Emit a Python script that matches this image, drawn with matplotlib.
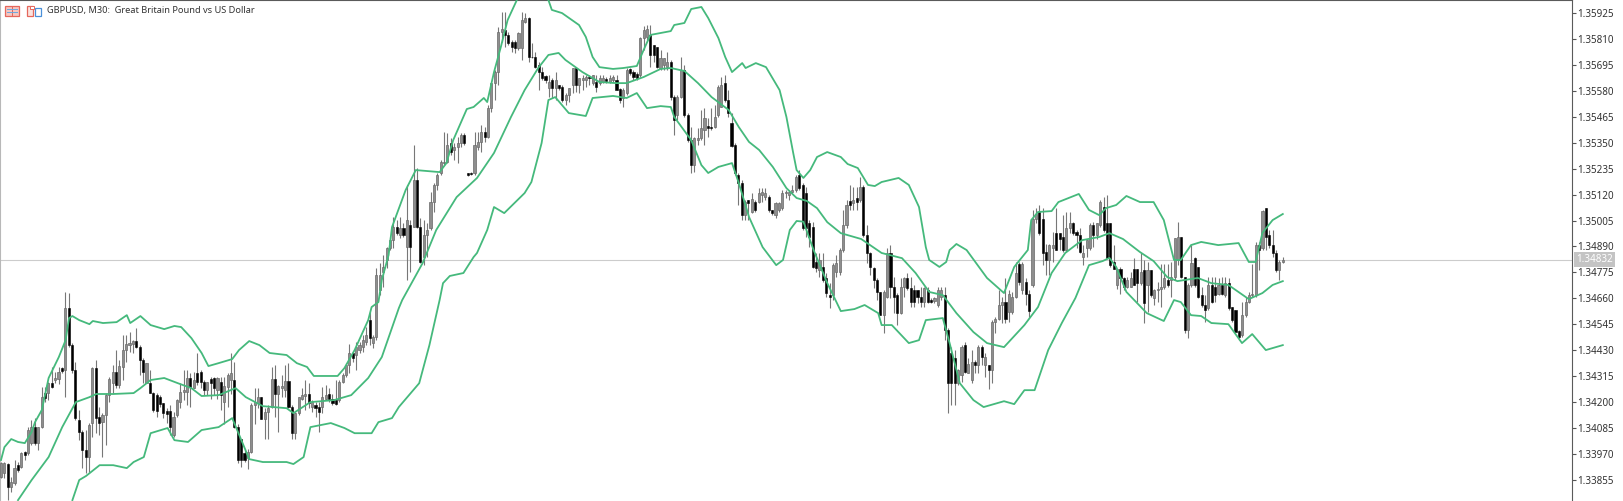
import numpy as np
import matplotlib
matplotlib.use('Agg')
import matplotlib.pyplot as plt
from matplotlib.patches import Rectangle

W, H = 1623, 501

# candles, prices in points above 1.33000
highs = [
    934,934,927,868,942,934,979,983,1090,1119,
    1127,1090,1267,1267,1290,1356,1334,1356,1356,1689,
    1682,1460,1378,1164,1075,1075,1105,1356,1386,1179,
    1149,1238,1312,1364,1430,1386,1497,1497,1512,1475,
    1526,1452,1393,1371,1341,1245,1238,1230,1193,1171,
    1185,1156,1215,1282,1341,1341,1326,1334,1415,1341,
    1297,1289,1311,1311,1311,1311,1311,1326,1415,1378,
    1104,1037,993,993,1193,1260,1260,1223,1171,1186,
    1356,1363,1274,1319,1363,1371,1186,1156,1223,1260,
    1297,1282,1208,1200,1200,1267,1274,1260,1237,1297,
    1297,1326,1371,1459,1422,1467,1467,1496,1533,1599,
    1497,1794,1815,1852,1889,1933,2022,2007,2022,1992,
    2163,2007,2340,2237,2015,2007,1992,2133,2170,2214,
    2274,2399,2392,2370,2348,2377,2392,2392,2217,2222,
    2399,2399,2429,2422,2518,2614,2673,2866,2932,2932,
    2843,2806,2806,2843,2932,2925,2910,2792,2755,2710,
    2688,2651,2651,2636,2666,2606,2606,2569,2592,2680,
    2680,2636,2651,2651,2651,2651,2651,2651,2651,2643,
    2651,2651,2651,2592,2592,2680,2683,2673,2666,2821,
    2868,2873,2873,2784,2777,2762,2725,2754,2717,2562,
    2562,2732,2695,2481,2421,2377,2414,2495,2503,2458,
    2503,2518,2606,2643,2651,2584,2481,2347,2214,2185,
    2096,2096,2126,2096,2148,2148,2148,2119,2052,2089,
    2089,2141,2141,2141,2163,2207,2230,2170,2156,2008,
    1999,1860,1860,1860,1771,1726,1815,1852,1882,2052,
    2096,2163,2156,2156,2200,2163,1985,1867,1800,1749,
    1689,1697,1882,1897,1756,1682,1749,1756,1771,1756,
    1719,1697,1712,1712,1712,1660,1667,1712,1712,1712,
    1527,1444,1430,1348,1452,1467,1393,1430,1385,1452,
    1452,1415,1363,1563,1578,1696,1666,1748,1696,1689,
    1822,1822,1822,1748,1696,2051,2059,2073,2059,1903,
    1903,1955,2059,1948,2029,2044,2044,1999,1962,1970,
    1896,1918,1992,1999,1992,2096,2110,2118,1992,1896,
    1792,1799,1755,1755,1778,1837,1792,1859,1829,1822,
    1785,1703,1733,1814,1814,1814,1822,1926,2000,1933,
    1755,1726,1896,1844,1800,1711,1674,1755,1755,1755,
    1748,1755,1755,1748,1622,1607,1519,1644,1667,1689,
    1814,1911,1911,2051,2059,1963,1963,1874,1829,1844,
]
body_tops = [
    927,930,923,846,905,920,971,979,1075,1090,
    1090,1090,1223,1238,1282,1282,1304,1334,1349,1615,
    1615,1452,1341,1119,1068,986,1097,1349,1349,1134,
    1142,1230,1300,1334,1334,1359,1430,1455,1460,1472,
    1472,1445,1386,1371,1282,1241,1230,1223,1193,1161,
    1161,1134,1208,1245,1252,1304,1304,1297,1326,1334,
    1289,1289,1300,1304,1304,1289,1270,1319,1326,1297,
    1089,1037,971,978,1186,1200,1223,1223,1156,1171,
    1300,1300,1270,1270,1292,1292,1178,1149,1220,1230,
    1237,1237,1200,1186,1178,1223,1230,1237,1211,1208,
    1289,1319,1363,1415,1415,1445,1452,1474,1496,1563,
    1488,1763,1763,1800,1881,1918,1978,1978,1970,1970,
    2007,1985,2185,2185,1978,1941,1963,2088,2163,2207,
    2266,2266,2340,2348,2333,2348,2385,2385,2214,2217,
    2340,2355,2399,2399,2503,2614,2666,2843,2854,2851,
    2829,2799,2799,2836,2895,2903,2903,2732,2732,2695,
    2666,2647,2621,2629,2629,2606,2599,2562,2592,2680,
    2680,2636,2636,2643,2643,2651,2621,2636,2636,2632,
    2636,2643,2629,2587,2584,2673,2676,2666,2655,2814,
    2851,2854,2828,2784,2777,2725,2725,2710,2710,2555,
    2555,2673,2673,2473,2362,2370,2370,2414,2458,2424,
    2421,2466,2599,2606,2614,2540,2436,2340,2207,2170,
    2088,2096,2099,2089,2126,2133,2126,2111,2052,2082,
    2082,2126,2133,2133,2141,2200,2207,2163,2126,1993,
    1978,1823,1830,1800,1749,1675,1808,1815,1874,1985,
    2074,2093,2096,2104,2156,2156,1941,1860,1793,1741,
    1689,1689,1860,1860,1712,1675,1712,1749,1749,1704,
    1697,1697,1667,1704,1697,1652,1660,1697,1697,1675,
    1519,1415,1393,1341,1444,1452,1370,1378,1378,1444,
    1444,1400,1363,1555,1570,1629,1644,1644,1681,1666,
    1770,1814,1814,1733,1681,2014,2036,2044,2014,1866,
    1896,1896,1948,1948,1933,1970,1992,1995,1955,1940,
    1859,1918,1985,1985,1992,2088,2066,1992,1992,1822,
    1792,1792,1748,1741,1748,1792,1792,1778,1785,1785,
    1785,1696,1703,1711,1748,1741,1755,1926,1933,1933,
    1755,1718,1815,1837,1800,1674,1630,1718,1718,1711,
    1718,1718,1726,1726,1619,1607,1514,1585,1644,1674,
    1681,1896,1896,2048,2059,1940,1896,1859,1822,1832,
]
body_bottoms = [
    868,883,823,823,838,897,912,964,971,1016,
    1016,1016,1090,1216,1238,1264,1297,1300,1338,1341,
    1452,1341,1127,1068,986,957,957,1105,1127,1105,
    1112,1142,1230,1282,1275,1275,1356,1430,1452,1457,
    1445,1386,1334,1282,1241,1164,1161,1190,1149,1146,
    1090,1052,1141,1200,1245,1245,1267,1260,1289,1289,
    1252,1252,1282,1260,1252,1230,1200,1267,1297,1089,
    941,941,941,949,978,1186,1193,1126,1126,1156,
    1178,1237,1237,1260,1252,1178,1060,1060,1149,1215,
    1226,1193,1178,1175,1156,1178,1215,1215,1193,1190,
    1208,1289,1319,1363,1393,1407,1430,1445,1467,1483,
    1461,1488,1696,1778,1830,1881,1918,1948,1941,1941,
    1889,1889,1978,1978,1822,1844,1941,1970,2088,2163,
    2214,2259,2266,2311,2318,2333,2348,2348,2207,2211,
    2214,2333,2355,2377,2377,2503,2614,2666,2843,2829,
    2792,2777,2769,2769,2769,2888,2732,2729,2688,2666,
    2636,2629,2592,2592,2592,2592,2540,2540,2562,2606,
    2606,2606,2629,2629,2636,2614,2599,2614,2621,2624,
    2621,2629,2584,2540,2547,2569,2661,2643,2636,2651,
    2814,2821,2740,2740,2688,2680,2695,2688,2555,2451,
    2473,2555,2473,2362,2251,2251,2362,2370,2407,2414,
    2414,2421,2473,2510,2540,2481,2336,2214,2170,2029,
    2029,2081,2045,2052,2089,2119,2111,2052,2037,2030,
    2052,2059,2126,2119,2133,2141,2148,1971,1971,1934,
    1800,1793,1786,1741,1682,1667,1675,1778,1778,1874,
    1985,2074,2082,2089,2096,1941,1860,1800,1741,1689,
    1586,1586,1667,1712,1667,1593,1593,1712,1704,1645,
    1645,1667,1645,1645,1645,1645,1649,1630,1667,1519,
    1282,1282,1282,1282,1319,1333,1326,1296,1363,1363,
    1400,1363,1341,1341,1555,1570,1629,1570,1600,1600,
    1666,1733,1696,1681,1604,1718,2014,1948,1859,1829,
    1829,1881,1874,1925,1874,1874,1970,1948,1940,1866,
    1844,1881,1881,1940,1940,1985,1962,1837,1807,1792,
    1718,1748,1711,1711,1711,1718,1726,1726,1637,1718,
    1674,1659,1696,1699,1711,1718,1741,1755,1829,1755,
    1519,1519,1718,1718,1667,1630,1607,1615,1644,1674,
    1681,1681,1674,1615,1563,1511,1489,1496,1585,1644,
    1674,1674,1874,1881,1933,1896,1859,1785,1785,1822,
]
lows = [
    860,860,764,801,831,890,905,942,964,1008,
    1008,986,1082,1201,1208,1260,1282,1279,1327,1223,
    1445,1327,1119,1031,905,883,890,1045,1060,1053,
    957,1008,1201,1238,1260,1260,1297,1378,1423,1415,
    1438,1319,1282,1282,1238,1156,1134,1179,1127,1105,
    1053,1045,1134,1171,1208,1186,1178,1260,1274,1260,
    1230,1230,1215,1230,1215,1163,1104,1178,1237,1082,
    927,912,934,904,971,1104,1171,1126,1037,1037,
    1171,1134,1067,1222,1222,1171,1037,1037,1141,1208,
    1163,1171,1156,1134,1067,1149,1208,1200,1186,1186,
    1200,1282,1311,1326,1378,1341,1415,1422,1452,1452,
    1439,1474,1674,1711,1793,1874,1881,1941,1926,1933,
    1741,1778,1978,1970,1815,1807,1844,1963,2044,2140,
    2207,2251,2259,2296,2274,2259,2333,2340,2203,2207,
    2207,2318,2311,2355,2370,2488,2540,2607,2799,2777,
    2784,2755,2747,2762,2718,2880,2710,2725,2681,2584,
    2629,2614,2555,2547,2540,2584,2532,2518,2532,2569,
    2577,2569,2584,2599,2606,2606,2577,2606,2614,2614,
    2614,2621,2584,2525,2510,2562,2651,2629,2629,2643,
    2762,2806,2688,2710,2680,2673,2673,2673,2540,2384,
    2451,2547,2466,2355,2214,2222,2340,2362,2340,2377,
    2407,2414,2466,2510,2532,2466,2333,2207,2074,2007,
    2007,2007,2037,2045,2082,2089,2096,2045,2030,2015,
    2045,2052,2104,2096,2126,2133,2141,1963,1934,1889,
    1793,1778,1756,1734,1667,1615,1652,1756,1763,1867,
    1971,2052,2052,2052,2089,1934,1815,1763,1704,1652,
    1586,1504,1660,1660,1593,1541,1590,1667,1697,1623,
    1623,1638,1623,1623,1641,1638,1638,1623,1652,1475,
    1149,1185,1185,1274,1289,1326,1326,1282,1326,1326,
    1363,1311,1259,1282,1504,1563,1548,1548,1555,1592,
    1659,1718,1681,1629,1578,1711,1992,1940,1807,1763,
    1763,1822,1874,1874,1866,1866,1948,1940,1881,1859,
    1807,1844,1874,1888,1925,1977,1955,1837,1799,1792,
    1703,1681,1696,1704,1711,1718,1644,1718,1548,1600,
    1666,1630,1644,1622,1703,1711,1666,1741,1807,1748,
    1504,1482,1711,1711,1659,1622,1556,1607,1637,1644,
    1674,1674,1666,1607,1556,1504,1474,1489,1578,1637,
    1666,1666,1785,1874,1874,1881,1844,1778,1741,1815,
]
# U = bullish candle, D = bearish (black body)
directions = (
    "UUDUUDUDUU" "DUUDUDUUDU" "DDDDDDUUDD" "UUUUDUUUUU" "DDDUDDDDDD"
    "DUUUUUDUDD" "DUDDUDUUUD" "DDDUUUUDUU" "UDUUUDDUUU" "UDUDDUUDDD"
    "UUUUDUUUUD" "UUUUUUUDUD" "UDUDDUUUUU" "UUUDUUUDDD" "UUUDUUUUUD"
    "DDDUUUDDDD" "DDUDUDDUUU" "DUUUDUDUUD" "UUDDUUDDDU" "UUDDDUUUDD"
    "UUDDDUUUUD" "DUUUDDDDDD" "UDUDUUUDDU" "UUUUUUDDDD" "DDUDDDUUUU"
    "UDUDUDDDDD" "DUUDDDUUDD" "DDDUDDUUUD" "DDDUUDUUDU" "DUDUUUUDUU"
    "UDUDDUUDDD" "UUDDDUUDDD" "UUUDUUDDDD" "UDDUUDDUDU" "DUUUUDUUUD"
    "DUUDDDDUDD" "UDUDDDDUUU" "UUDUDDDDUU"
)
last_price = 1832
band_tail = 377

upper_idx = [0,1,3,5,7,9,10,12,14,17,19,20,21,23,26,27,30,34,37,38,41,44,48,51,53,56,59,61,64,68,70,73,76,79,84,87,90,92,99,101,104,108,109,111,112,114,115,119,122,129,131,133,137,139,142,143,145,147,149,152,156,161,162,165,170,172,174,176,180,183,187,189,191,197,198,201,203,206,208,211,213,215,218,219,222,225,229,231,233,234,236,238,240,243,247,249,252,255,257,259,264,267,270,272,273,276,278,279,280,281,284,290,295,298,302,303,305,309,311,317,320,323,325,328,331,335,339,342,345,347,350,353,358,364,367,369,371,374,377]
upper_band = [942,999,1035,1022,1017,1066,1110,1164,1306,1399,1474,1572,1581,1563,1545,1559,1550,1554,1585,1550,1581,1541,1523,1537,1532,1483,1417,1359,1372,1390,1430,1470,1452,1417,1408,1372,1355,1315,1315,1350,1430,1563,1621,1643,1741,1852,1976,2140,2229,2220,2260,2362,2500,2509,2549,2531,2664,2775,2895,2993,3050,2984,2940,2926,2873,2820,2731,2686,2678,2682,2691,2762,2829,2846,2873,2882,2944,2953,2904,2815,2731,2664,2704,2682,2704,2686,2584,2465,2305,2229,2194,2229,2287,2309,2287,2256,2238,2163,2158,2176,2194,2163,2065,1887,1830,1799,1821,1874,1887,1901,1874,1750,1683,1799,1874,2007,2043,2047,2087,2123,2052,2029,2060,2074,2114,2087,2087,2007,1830,1830,1896,1910,1896,1905,1821,1821,1950,2007,2034]
middle_idx = [5,9,14,18,22,26,28,33,39,41,44,48,52,56,59,64,69,72,77,84,86,91,98,103,108,112,117,118,124,128,134,140,145,150,154,158,161,164,166,171,176,181,184,189,194,197,201,205,209,214,217,220,223,227,231,234,237,240,243,247,253,259,265,269,273,277,281,286,290,295,301,305,309,313,318,323,326,330,335,339,343,346,352,356,361,367,371,374,377]
middle_band = [764,853,955,1088,1199,1221,1235,1235,1239,1261,1297,1306,1283,1261,1226,1230,1261,1221,1181,1172,1150,1199,1208,1230,1306,1399,1616,1652,1816,1963,2109,2194,2305,2465,2584,2682,2740,2749,2718,2664,2620,2615,2615,2642,2678,2682,2669,2615,2553,2496,2420,2354,2318,2243,2149,2105,2092,2060,1998,1949,1923,1861,1838,1772,1688,1674,1594,1510,1461,1443,1541,1621,1772,1861,1918,1932,1949,1923,1865,1825,1754,1736,1750,1727,1719,1656,1683,1719,1736]
lower_idx = [21,23,25,29,33,37,39,42,44,49,51,55,59,64,68,73,77,84,86,89,91,97,101,104,109,111,115,117,123,126,129,130,132,136,139,140,143,145,148,154,156,159,161,163,167,172,174,180,184,187,190,194,197,198,203,206,208,211,215,217,220,224,228,230,232,234,236,239,243,247,251,254,258,259,262,267,270,272,277,279,282,286,289,295,298,301,304,308,312,316,320,324,326,328,331,337,342,345,347,350,353,356,361,365,368,372,377]
lower_band = [764,853,871,919,919,906,933,955,1061,1084,1030,1022,1075,1088,1128,946,933,933,924,955,1088,1106,1084,1061,1061,1110,1128,1177,1283,1452,1652,1727,1759,1772,1843,1861,1963,2065,2038,2127,2176,2349,2540,2553,2482,2469,2549,2558,2549,2571,2504,2513,2509,2465,2362,2251,2216,2243,2260,2171,2021,1887,1807,1830,1963,2003,2000,1874,1728,1603,1612,1630,1594,1541,1541,1461,1474,1563,1572,1461,1283,1208,1177,1203,1190,1252,1252,1430,1550,1661,1807,1825,1839,1799,1688,1594,1559,1652,1643,1585,1581,1550,1545,1461,1501,1430,1452]

tick_labels = ['1.35925','1.35810','1.35695','1.35580','1.35465','1.35350','1.35235','1.35120',
               '1.35005','1.34890','1.34775','1.34660','1.34545','1.34430','1.34315','1.34200',
               '1.34085','1.33970','1.33855']


def price(points):
    return 1.33 + np.asarray(points, dtype=float) * 1e-5


plt.rcParams['font.family'] = ['Noto Sans', 'DejaVu Sans']

fig = plt.figure(figsize=(W / 100, H / 100), dpi=100)
ax = fig.add_axes([0, 0, 1572 / W, 1])

n_bars = len(highs)
bar_x = np.linspace(0, band_tail, n_bars)
is_up = np.array([d == 'U' for d in directions[:n_bars]])
tops = price(body_tops)
bots = price(body_bottoms)

ax.axhline(price(last_price), color='#cccccc', lw=0.8, zorder=1)
ax.vlines(bar_x, price(lows), price(highs), color='#777777', lw=0.8, zorder=2)
ax.bar(bar_x[is_up], (tops - bots)[is_up], bottom=bots[is_up], width=0.62,
       facecolor='#8e8e8e', edgecolor='#6a6a6a', lw=0.5, zorder=3)
ax.bar(bar_x[~is_up], (tops - bots)[~is_up], bottom=bots[~is_up], width=0.62,
       facecolor='black', edgecolor='black', lw=0.4, zorder=3)

for idx, band in [(upper_idx, upper_band), (middle_idx, middle_band), (lower_idx, lower_band)]:
    ax.plot(idx, price(band), color='#45b97c', lw=1.3, zorder=4, solid_joinstyle='round')

ax.set_xlim(-0.3, 1571 / 3.4)
ax.set_ylim(1.3376, 1.35984)
ax.set_xticks([])
ax.yaxis.tick_right()
ax.set_yticks([float(t) for t in tick_labels])
ax.set_yticklabels(tick_labels, fontsize=7.1, color='#333333')
ax.tick_params(axis='y', length=3, width=0.8, color='#555555', pad=0.6)

ax.spines['bottom'].set_visible(False)
ax.spines['right'].set_color('#5a5a5a')
ax.spines['top'].set_color('#5a5a5a')
ax.spines['left'].set_color('#b8b8b8')

ax.text(1.0 + 4 / 1572, price(last_price), '1.34832', transform=ax.get_yaxis_transform(),
        ha='left', va='center', fontsize=7.1, color='white',
        bbox=dict(boxstyle='square,pad=0.18', fc='#c4c4c4', ec='none'), zorder=5)

fig.text(47 / W, 1 - 10.5 / H, 'GBPUSD, M30:  Great Britain Pound vs US Dollar',
         fontsize=6.65, color='#333333', ha='left', va='center')


# small toolbar icons in the top left corner
def icon_rect(x, y, w, h, **kw):
    fig.add_artist(Rectangle((x / W, 1 - (y + h) / H), w / W, h / H,
                             transform=fig.transFigure, **kw))


icon_rect(5, 6, 14, 10, fc='#f6c6c0', ec='#e5675c', lw=0.9)
icon_rect(12, 6, 0.6, 10, fc='#e5675c', ec='none')
for row in (9, 12):
    icon_rect(6.5, row, 11, 1, fc='#6fa8dc', ec='none')
icon_rect(27, 6, 6, 10, fc='#fbe3df', ec='#e5675c', lw=0.9)
icon_rect(35, 8, 5.5, 8, fc='white', ec='#4a90d9', lw=0.9)
icon_rect(30, 6, 4, 3, fc='white', ec='#e5675c', lw=0.7)

fig.savefig('out.png', dpi=100)
